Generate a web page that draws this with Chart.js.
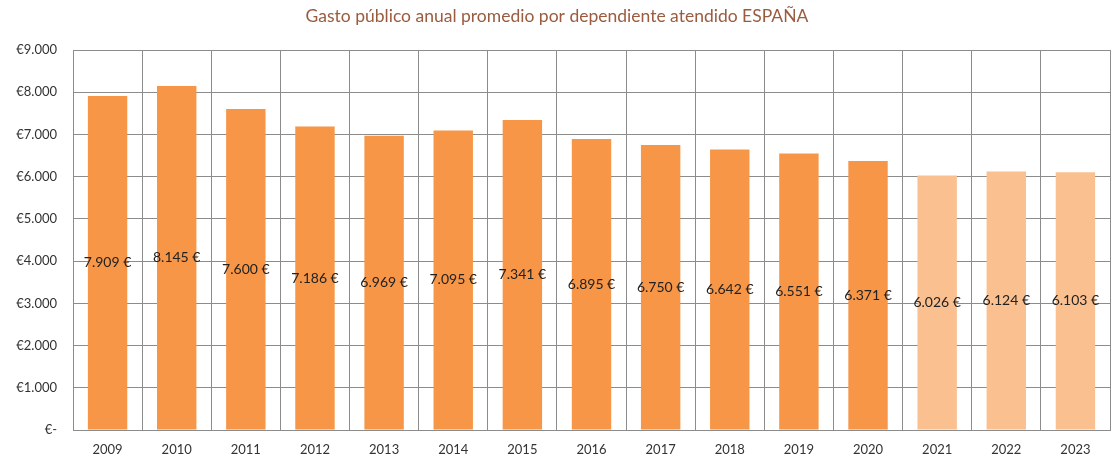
<!DOCTYPE html>
<html>
<head>
<meta charset="utf-8">
<script src="https://cdn.jsdelivr.net/npm/chart.js@4"></script>
<style>
  body { margin: 0; background: #fff; }
  #wrap { width: 1112px; height: 461px; }
</style>
</head>
<body>
<div id="wrap"><canvas id="gastoChart"></canvas></div>
<script>
const years = ['2009', '2010', '2011', '2012', '2013', '2014', '2015', '2016', '2017', '2018', '2019', '2020', '2021', '2022', '2023'];
const gasto = [7909, 8145, 7600, 7186, 6969, 7095, 7341, 6895, 6750, 6642, 6551, 6371, 6026, 6124, 6103];
const yTicks = ['€-', '€1.000', '€2.000', '€3.000', '€4.000', '€5.000', '€6.000', '€7.000', '€8.000', '€9.000'];

const darkOrange = '#F79646';
const lightOrange = '#FAC090';
const barColors = years.map(y => Number(y) >= 2021 ? lightOrange : darkOrange);

// label in the middle of each bar, like the excel original
const midLabels = {
    id: 'midLabels',
    afterDatasetsDraw(chart) {
        const ctx = chart.ctx;
        const meta = chart.getDatasetMeta(0);
        ctx.save();
        ctx.font = '14px Lato, "Liberation Sans", sans-serif';
        ctx.fillStyle = '#222';
        ctx.textAlign = 'center';
        ctx.textBaseline = 'middle';
        meta.data.forEach((bar, i) => {
            const txt = gasto[i].toLocaleString('de-DE') + ' €';
            ctx.fillText(txt, bar.x, (bar.y + bar.base) / 2);
        });
        ctx.restore();
    }
};

new Chart(document.getElementById('gastoChart'), {
    type: 'bar',
    data: {
        labels: years,
        datasets: [
            {
                label: 'Gasto',
                data: gasto,
                backgroundColor: barColors,
                borderWidth: 0,
                barPercentage: 0.57,
                categoryPercentage: 1
            }
        ]
    },
    plugins: [midLabels],
    options: {
        responsive: true,
        maintainAspectRatio: false,
        animation: false,
        layout: { padding: { left: 4, right: 2, top: 0, bottom: 0 } },
        plugins: {
            legend: { display: false },
            tooltip: { enabled: false },
            title: {
                display: true,
                text: 'Gasto público anual promedio por dependiente atendido ESPAÑA',
                color: '#9A5B3E',
                font: { family: 'Lato, "Liberation Sans", sans-serif', size: 17.5, weight: 'normal' },
                padding: { top: 6, bottom: 23 }
            }
        },
        scales: {
            x: {
                afterFit(scale) { scale.height = 31; },
                grid: { offset: true, color: '#8C8C8C', drawTicks: false },
                border: { color: '#8C8C8C' },
                ticks: {
                    color: '#333',
                    font: { family: 'Lato, "Liberation Sans", sans-serif', size: 13 },
                    padding: 12
                }
            },
            y: {
                min: 0,
                max: 9000,
                afterFit(scale) { scale.width = 69; },
                grid: { color: '#8C8C8C', drawTicks: false },
                border: { color: '#8C8C8C' },
                ticks: {
                    stepSize: 1000,
                    color: '#333',
                    font: { family: 'Lato, "Liberation Sans", sans-serif', size: 13 },
                    padding: 16,
                    callback: (v) => yTicks[v / 1000]
                }
            }
        }
    }
});
</script>
</body>
</html>
